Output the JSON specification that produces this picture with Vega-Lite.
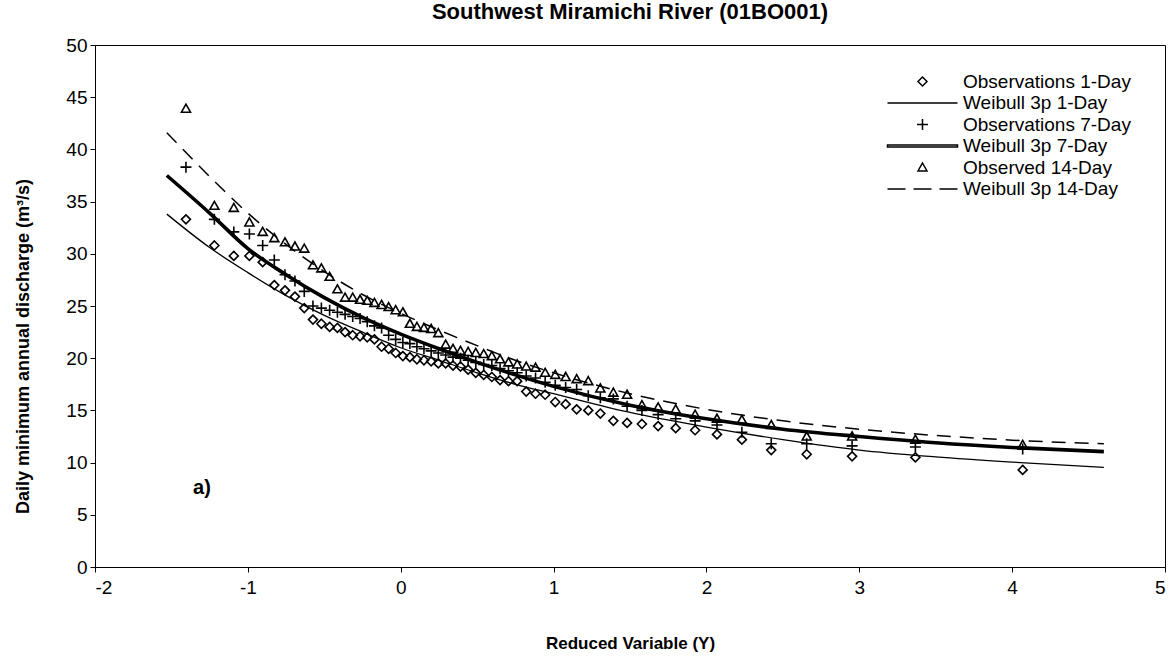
{
  "$schema": "https://vega.github.io/schema/vega-lite/v6.json",
  "width": 1070,
  "height": 522,
  "autosize": {"type": "none"},
  "padding": {"left": 95, "top": 45, "right": 11, "bottom": 89},
  "background": "white",
  "title": {"text": "Southwest Miramichi River (01BO001)", "font": "Liberation Sans", "fontSize": 22, "fontWeight": "bold", "color": "black", "anchor": "middle", "offset": 12},
  "config": {
    "view": {"stroke": "black", "strokeWidth": 1},
    "axis": {"grid": false, "domainColor": "black", "tickColor": "black", "tickSize": 5, "labelFont": "Liberation Sans", "labelFontSize": 19, "labelColor": "black", "titleFont": "Liberation Sans", "titleFontSize": 17, "titleFontWeight": "bold", "titleColor": "black"}
  },
  "datasets": {
    "obs": [
      {"Y": -1.405, "Q": 33.3, "series": "Observations 1-Day"},
      {"Y": -1.219, "Q": 30.8, "series": "Observations 1-Day"},
      {"Y": -1.092, "Q": 29.8, "series": "Observations 1-Day"},
      {"Y": -0.990, "Q": 29.8, "series": "Observations 1-Day"},
      {"Y": -0.903, "Q": 29.2, "series": "Observations 1-Day"},
      {"Y": -0.827, "Q": 27.0, "series": "Observations 1-Day"},
      {"Y": -0.757, "Q": 26.5, "series": "Observations 1-Day"},
      {"Y": -0.692, "Q": 25.9, "series": "Observations 1-Day"},
      {"Y": -0.631, "Q": 24.8, "series": "Observations 1-Day"},
      {"Y": -0.574, "Q": 23.7, "series": "Observations 1-Day"},
      {"Y": -0.519, "Q": 23.3, "series": "Observations 1-Day"},
      {"Y": -0.465, "Q": 23.0, "series": "Observations 1-Day"},
      {"Y": -0.414, "Q": 22.9, "series": "Observations 1-Day"},
      {"Y": -0.364, "Q": 22.5, "series": "Observations 1-Day"},
      {"Y": -0.314, "Q": 22.2, "series": "Observations 1-Day"},
      {"Y": -0.266, "Q": 22.1, "series": "Observations 1-Day"},
      {"Y": -0.219, "Q": 22.0, "series": "Observations 1-Day"},
      {"Y": -0.172, "Q": 21.8, "series": "Observations 1-Day"},
      {"Y": -0.125, "Q": 21.1, "series": "Observations 1-Day"},
      {"Y": -0.079, "Q": 20.9, "series": "Observations 1-Day"},
      {"Y": -0.033, "Q": 20.5, "series": "Observations 1-Day"},
      {"Y": 0.014, "Q": 20.2, "series": "Observations 1-Day"},
      {"Y": 0.060, "Q": 20.1, "series": "Observations 1-Day"},
      {"Y": 0.106, "Q": 19.9, "series": "Observations 1-Day"},
      {"Y": 0.152, "Q": 19.8, "series": "Observations 1-Day"},
      {"Y": 0.199, "Q": 19.7, "series": "Observations 1-Day"},
      {"Y": 0.246, "Q": 19.5, "series": "Observations 1-Day"},
      {"Y": 0.294, "Q": 19.5, "series": "Observations 1-Day"},
      {"Y": 0.342, "Q": 19.3, "series": "Observations 1-Day"},
      {"Y": 0.391, "Q": 19.2, "series": "Observations 1-Day"},
      {"Y": 0.441, "Q": 18.9, "series": "Observations 1-Day"},
      {"Y": 0.491, "Q": 18.6, "series": "Observations 1-Day"},
      {"Y": 0.543, "Q": 18.4, "series": "Observations 1-Day"},
      {"Y": 0.596, "Q": 18.2, "series": "Observations 1-Day"},
      {"Y": 0.650, "Q": 17.9, "series": "Observations 1-Day"},
      {"Y": 0.705, "Q": 17.8, "series": "Observations 1-Day"},
      {"Y": 0.762, "Q": 17.8, "series": "Observations 1-Day"},
      {"Y": 0.821, "Q": 16.8, "series": "Observations 1-Day"},
      {"Y": 0.882, "Q": 16.6, "series": "Observations 1-Day"},
      {"Y": 0.945, "Q": 16.5, "series": "Observations 1-Day"},
      {"Y": 1.011, "Q": 15.8, "series": "Observations 1-Day"},
      {"Y": 1.079, "Q": 15.6, "series": "Observations 1-Day"},
      {"Y": 1.151, "Q": 15.1, "series": "Observations 1-Day"},
      {"Y": 1.227, "Q": 15.0, "series": "Observations 1-Day"},
      {"Y": 1.306, "Q": 14.7, "series": "Observations 1-Day"},
      {"Y": 1.391, "Q": 14.0, "series": "Observations 1-Day"},
      {"Y": 1.481, "Q": 13.8, "series": "Observations 1-Day"},
      {"Y": 1.578, "Q": 13.7, "series": "Observations 1-Day"},
      {"Y": 1.684, "Q": 13.5, "series": "Observations 1-Day"},
      {"Y": 1.799, "Q": 13.3, "series": "Observations 1-Day"},
      {"Y": 1.926, "Q": 13.1, "series": "Observations 1-Day"},
      {"Y": 2.069, "Q": 12.7, "series": "Observations 1-Day"},
      {"Y": 2.232, "Q": 12.2, "series": "Observations 1-Day"},
      {"Y": 2.424, "Q": 11.2, "series": "Observations 1-Day"},
      {"Y": 2.656, "Q": 10.8, "series": "Observations 1-Day"},
      {"Y": 2.953, "Q": 10.6, "series": "Observations 1-Day"},
      {"Y": 3.367, "Q": 10.5, "series": "Observations 1-Day"},
      {"Y": 4.069, "Q": 9.3, "series": "Observations 1-Day"},
      {"Y": -1.405, "Q": 38.3, "series": "Observations 7-Day"},
      {"Y": -1.219, "Q": 33.3, "series": "Observations 7-Day"},
      {"Y": -1.092, "Q": 32.1, "series": "Observations 7-Day"},
      {"Y": -0.990, "Q": 31.9, "series": "Observations 7-Day"},
      {"Y": -0.903, "Q": 30.8, "series": "Observations 7-Day"},
      {"Y": -0.827, "Q": 29.4, "series": "Observations 7-Day"},
      {"Y": -0.757, "Q": 28.0, "series": "Observations 7-Day"},
      {"Y": -0.692, "Q": 27.4, "series": "Observations 7-Day"},
      {"Y": -0.631, "Q": 26.4, "series": "Observations 7-Day"},
      {"Y": -0.574, "Q": 25.0, "series": "Observations 7-Day"},
      {"Y": -0.519, "Q": 24.8, "series": "Observations 7-Day"},
      {"Y": -0.465, "Q": 24.6, "series": "Observations 7-Day"},
      {"Y": -0.414, "Q": 24.4, "series": "Observations 7-Day"},
      {"Y": -0.364, "Q": 24.2, "series": "Observations 7-Day"},
      {"Y": -0.314, "Q": 24.0, "series": "Observations 7-Day"},
      {"Y": -0.266, "Q": 23.8, "series": "Observations 7-Day"},
      {"Y": -0.219, "Q": 23.5, "series": "Observations 7-Day"},
      {"Y": -0.172, "Q": 23.1, "series": "Observations 7-Day"},
      {"Y": -0.125, "Q": 22.9, "series": "Observations 7-Day"},
      {"Y": -0.079, "Q": 22.2, "series": "Observations 7-Day"},
      {"Y": -0.033, "Q": 21.8, "series": "Observations 7-Day"},
      {"Y": 0.014, "Q": 21.5, "series": "Observations 7-Day"},
      {"Y": 0.060, "Q": 21.4, "series": "Observations 7-Day"},
      {"Y": 0.106, "Q": 21.1, "series": "Observations 7-Day"},
      {"Y": 0.152, "Q": 20.9, "series": "Observations 7-Day"},
      {"Y": 0.199, "Q": 20.7, "series": "Observations 7-Day"},
      {"Y": 0.246, "Q": 20.5, "series": "Observations 7-Day"},
      {"Y": 0.294, "Q": 20.3, "series": "Observations 7-Day"},
      {"Y": 0.342, "Q": 20.1, "series": "Observations 7-Day"},
      {"Y": 0.391, "Q": 20.0, "series": "Observations 7-Day"},
      {"Y": 0.441, "Q": 19.8, "series": "Observations 7-Day"},
      {"Y": 0.491, "Q": 19.6, "series": "Observations 7-Day"},
      {"Y": 0.543, "Q": 19.4, "series": "Observations 7-Day"},
      {"Y": 0.596, "Q": 19.3, "series": "Observations 7-Day"},
      {"Y": 0.650, "Q": 19.0, "series": "Observations 7-Day"},
      {"Y": 0.705, "Q": 18.8, "series": "Observations 7-Day"},
      {"Y": 0.762, "Q": 18.6, "series": "Observations 7-Day"},
      {"Y": 0.821, "Q": 18.3, "series": "Observations 7-Day"},
      {"Y": 0.882, "Q": 18.1, "series": "Observations 7-Day"},
      {"Y": 0.945, "Q": 17.7, "series": "Observations 7-Day"},
      {"Y": 1.011, "Q": 17.4, "series": "Observations 7-Day"},
      {"Y": 1.079, "Q": 17.2, "series": "Observations 7-Day"},
      {"Y": 1.151, "Q": 17.0, "series": "Observations 7-Day"},
      {"Y": 1.227, "Q": 16.4, "series": "Observations 7-Day"},
      {"Y": 1.306, "Q": 16.2, "series": "Observations 7-Day"},
      {"Y": 1.391, "Q": 16.1, "series": "Observations 7-Day"},
      {"Y": 1.481, "Q": 15.4, "series": "Observations 7-Day"},
      {"Y": 1.578, "Q": 15.0, "series": "Observations 7-Day"},
      {"Y": 1.684, "Q": 14.6, "series": "Observations 7-Day"},
      {"Y": 1.799, "Q": 14.2, "series": "Observations 7-Day"},
      {"Y": 1.926, "Q": 14.0, "series": "Observations 7-Day"},
      {"Y": 2.069, "Q": 13.6, "series": "Observations 7-Day"},
      {"Y": 2.232, "Q": 12.9, "series": "Observations 7-Day"},
      {"Y": 2.424, "Q": 11.8, "series": "Observations 7-Day"},
      {"Y": 2.656, "Q": 11.8, "series": "Observations 7-Day"},
      {"Y": 2.953, "Q": 11.6, "series": "Observations 7-Day"},
      {"Y": 3.367, "Q": 11.5, "series": "Observations 7-Day"},
      {"Y": 4.069, "Q": 11.3, "series": "Observations 7-Day"},
      {"Y": -1.405, "Q": 43.9, "series": "Observed 14-Day"},
      {"Y": -1.219, "Q": 34.6, "series": "Observed 14-Day"},
      {"Y": -1.092, "Q": 34.4, "series": "Observed 14-Day"},
      {"Y": -0.990, "Q": 33.0, "series": "Observed 14-Day"},
      {"Y": -0.903, "Q": 32.1, "series": "Observed 14-Day"},
      {"Y": -0.827, "Q": 31.5, "series": "Observed 14-Day"},
      {"Y": -0.757, "Q": 31.1, "series": "Observed 14-Day"},
      {"Y": -0.692, "Q": 30.7, "series": "Observed 14-Day"},
      {"Y": -0.631, "Q": 30.5, "series": "Observed 14-Day"},
      {"Y": -0.574, "Q": 28.9, "series": "Observed 14-Day"},
      {"Y": -0.519, "Q": 28.6, "series": "Observed 14-Day"},
      {"Y": -0.465, "Q": 27.8, "series": "Observed 14-Day"},
      {"Y": -0.414, "Q": 26.6, "series": "Observed 14-Day"},
      {"Y": -0.364, "Q": 25.8, "series": "Observed 14-Day"},
      {"Y": -0.314, "Q": 25.8, "series": "Observed 14-Day"},
      {"Y": -0.266, "Q": 25.6, "series": "Observed 14-Day"},
      {"Y": -0.219, "Q": 25.5, "series": "Observed 14-Day"},
      {"Y": -0.172, "Q": 25.3, "series": "Observed 14-Day"},
      {"Y": -0.125, "Q": 25.1, "series": "Observed 14-Day"},
      {"Y": -0.079, "Q": 24.9, "series": "Observed 14-Day"},
      {"Y": -0.033, "Q": 24.6, "series": "Observed 14-Day"},
      {"Y": 0.014, "Q": 24.4, "series": "Observed 14-Day"},
      {"Y": 0.060, "Q": 23.3, "series": "Observed 14-Day"},
      {"Y": 0.106, "Q": 23.0, "series": "Observed 14-Day"},
      {"Y": 0.152, "Q": 22.9, "series": "Observed 14-Day"},
      {"Y": 0.199, "Q": 22.8, "series": "Observed 14-Day"},
      {"Y": 0.246, "Q": 22.4, "series": "Observed 14-Day"},
      {"Y": 0.294, "Q": 21.3, "series": "Observed 14-Day"},
      {"Y": 0.342, "Q": 20.9, "series": "Observed 14-Day"},
      {"Y": 0.391, "Q": 20.7, "series": "Observed 14-Day"},
      {"Y": 0.441, "Q": 20.6, "series": "Observed 14-Day"},
      {"Y": 0.491, "Q": 20.5, "series": "Observed 14-Day"},
      {"Y": 0.543, "Q": 20.4, "series": "Observed 14-Day"},
      {"Y": 0.596, "Q": 20.2, "series": "Observed 14-Day"},
      {"Y": 0.650, "Q": 19.9, "series": "Observed 14-Day"},
      {"Y": 0.705, "Q": 19.6, "series": "Observed 14-Day"},
      {"Y": 0.762, "Q": 19.4, "series": "Observed 14-Day"},
      {"Y": 0.821, "Q": 19.2, "series": "Observed 14-Day"},
      {"Y": 0.882, "Q": 19.1, "series": "Observed 14-Day"},
      {"Y": 0.945, "Q": 18.6, "series": "Observed 14-Day"},
      {"Y": 1.011, "Q": 18.4, "series": "Observed 14-Day"},
      {"Y": 1.079, "Q": 18.2, "series": "Observed 14-Day"},
      {"Y": 1.151, "Q": 18.0, "series": "Observed 14-Day"},
      {"Y": 1.227, "Q": 17.8, "series": "Observed 14-Day"},
      {"Y": 1.306, "Q": 17.1, "series": "Observed 14-Day"},
      {"Y": 1.391, "Q": 16.7, "series": "Observed 14-Day"},
      {"Y": 1.481, "Q": 16.5, "series": "Observed 14-Day"},
      {"Y": 1.578, "Q": 15.5, "series": "Observed 14-Day"},
      {"Y": 1.684, "Q": 15.3, "series": "Observed 14-Day"},
      {"Y": 1.799, "Q": 15.1, "series": "Observed 14-Day"},
      {"Y": 1.926, "Q": 14.6, "series": "Observed 14-Day"},
      {"Y": 2.069, "Q": 14.2, "series": "Observed 14-Day"},
      {"Y": 2.232, "Q": 14.1, "series": "Observed 14-Day"},
      {"Y": 2.424, "Q": 13.6, "series": "Observed 14-Day"},
      {"Y": 2.656, "Q": 12.5, "series": "Observed 14-Day"},
      {"Y": 2.953, "Q": 12.5, "series": "Observed 14-Day"},
      {"Y": 3.367, "Q": 12.2, "series": "Observed 14-Day"},
      {"Y": 4.069, "Q": 11.7, "series": "Observed 14-Day"}
    ],
    "w1": [
      {"Y": -1.53, "Q": 33.8}, {"Y": -1.25, "Q": 30.6}, {"Y": -1.0, "Q": 28.2}, {"Y": -0.75, "Q": 26.0},
      {"Y": -0.5, "Q": 24.1}, {"Y": -0.25, "Q": 22.5}, {"Y": 0.0, "Q": 21.0}, {"Y": 0.25, "Q": 19.8},
      {"Y": 0.5, "Q": 18.6}, {"Y": 0.75, "Q": 17.5}, {"Y": 1.0, "Q": 16.6}, {"Y": 1.5, "Q": 14.8},
      {"Y": 2.0, "Q": 13.4}, {"Y": 2.5, "Q": 12.2}, {"Y": 3.0, "Q": 11.2}, {"Y": 3.5, "Q": 10.55},
      {"Y": 4.0, "Q": 10.05}, {"Y": 4.6, "Q": 9.55}
    ],
    "w7": [
      {"Y": -1.53, "Q": 37.5}, {"Y": -1.25, "Q": 33.9}, {"Y": -1.0, "Q": 30.5}, {"Y": -0.75, "Q": 28.0},
      {"Y": -0.5, "Q": 25.8}, {"Y": -0.25, "Q": 23.9}, {"Y": 0.0, "Q": 22.3}, {"Y": 0.25, "Q": 20.9},
      {"Y": 0.5, "Q": 19.6}, {"Y": 0.75, "Q": 18.4}, {"Y": 1.0, "Q": 17.3}, {"Y": 1.5, "Q": 15.5},
      {"Y": 2.0, "Q": 14.2}, {"Y": 2.5, "Q": 13.2}, {"Y": 3.0, "Q": 12.5}, {"Y": 3.5, "Q": 11.9},
      {"Y": 4.0, "Q": 11.45}, {"Y": 4.6, "Q": 11.05}
    ],
    "w14": [
      {"Y": -1.53, "Q": 41.6}, {"Y": -1.25, "Q": 37.4}, {"Y": -1.0, "Q": 33.9}, {"Y": -0.75, "Q": 30.9},
      {"Y": -0.5, "Q": 28.3}, {"Y": -0.25, "Q": 26.1}, {"Y": 0.0, "Q": 24.3}, {"Y": 0.25, "Q": 22.7},
      {"Y": 0.5, "Q": 21.2}, {"Y": 0.75, "Q": 19.8}, {"Y": 1.0, "Q": 18.6}, {"Y": 1.5, "Q": 16.6},
      {"Y": 2.0, "Q": 15.1}, {"Y": 2.5, "Q": 14.0}, {"Y": 3.0, "Q": 13.2}, {"Y": 3.5, "Q": 12.6},
      {"Y": 4.0, "Q": 12.15}, {"Y": 4.6, "Q": 11.8}
    ],
    "notes": [{"Y": -1.3, "Q": 7.6, "label": "a)"}]
  },
  "layer": [
    {
      "data": {"name": "w1"},
      "mark": {"type": "line", "color": "black", "strokeWidth": 1.3, "interpolate": "monotone"},
      "encoding": {
        "x": {"field": "Y", "type": "quantitative", "scale": {"domain": [-2, 5], "nice": false}, "axis": {"values": [-2, -1, 0, 1, 2, 3, 4, 5], "labelExpr": "'' + datum.value", "title": "Reduced Variable (Y)", "labelPadding": 6, "titlePadding": 38}},
        "y": {"field": "Q", "type": "quantitative", "scale": {"domain": [0, 50], "nice": false}, "axis": {"values": [0, 5, 10, 15, 20, 25, 30, 35, 40, 45, 50], "title": "Daily minimum annual discharge (m³/s)", "titleFontSize": 18, "labelPadding": 3, "titlePadding": 33, "titleY": 301}}
      }
    },
    {
      "data": {"name": "w7"},
      "mark": {"type": "line", "color": "black", "strokeWidth": 3.6, "interpolate": "monotone"},
      "encoding": {
        "x": {"field": "Y", "type": "quantitative"},
        "y": {"field": "Q", "type": "quantitative"}
      }
    },
    {
      "data": {"name": "w14"},
      "mark": {"type": "line", "color": "black", "strokeWidth": 1.5, "strokeDash": [14, 9], "interpolate": "monotone"},
      "encoding": {
        "x": {"field": "Y", "type": "quantitative"},
        "y": {"field": "Q", "type": "quantitative"}
      }
    },
    {
      "data": {"name": "obs"},
      "mark": {"type": "point", "filled": false, "color": "black", "size": 100, "strokeWidth": 1.6, "opacity": 1},
      "encoding": {
        "x": {"field": "Y", "type": "quantitative"},
        "y": {"field": "Q", "type": "quantitative"},
        "shape": {
          "field": "series", "type": "nominal",
          "scale": {
            "domain": ["Observations 1-Day", "Weibull 3p 1-Day", "Observations 7-Day", "Weibull 3p 7-Day", "Observed 14-Day", "Weibull 3p 14-Day"],
            "range": ["M0,-0.9L0.9,0L0,0.9L-0.9,0Z", "M-7,0H7", "M-1.1,0H1.1M0,-1.1V1.1", "M-7,-0.22H7V0.22H-7Z", "M0,-0.9L0.9,0.7L-0.9,0.7Z", "M-7,0H-3.4M-1.8,0H1.8M3.4,0H7"]
          },
          "legend": {
            "orient": "none", "legendX": 818, "legendY": 27, "title": null,
            "labelFont": "Liberation Sans", "labelFontSize": 19, "labelColor": "black", "labelLimit": 400,
            "symbolSize": 100, "symbolStrokeColor": "black", "symbolStrokeWidth": 1.5,
            "labelOffset": 31, "rowPadding": 1.5, "padding": 0
          }
        }
      }
    },
    {
      "data": {"name": "notes"},
      "mark": {"type": "text", "font": "Liberation Sans", "fontSize": 20, "fontWeight": "bold", "color": "black", "align": "center", "baseline": "middle"},
      "encoding": {
        "x": {"field": "Y", "type": "quantitative"},
        "y": {"field": "Q", "type": "quantitative"},
        "text": {"field": "label"}
      }
    }
  ]
}
